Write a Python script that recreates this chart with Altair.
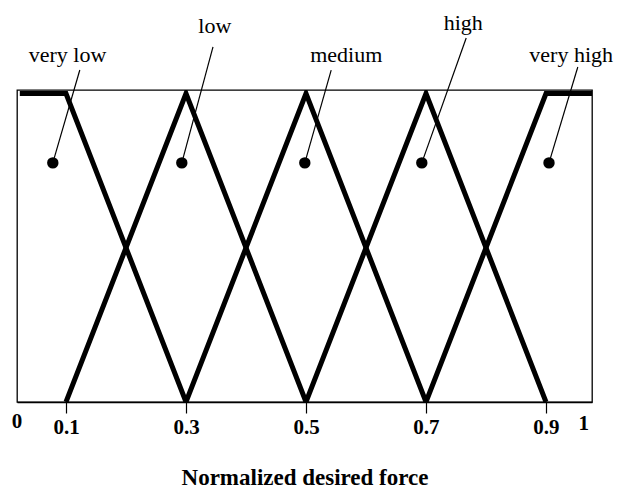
import altair as alt
import pandas as pd

# Membership functions (normalized desired force -> membership degree)
mf_names = ["very low", "low", "medium", "high", "very high"]
mf_x = [
    [0.023, 0.1, 0.3],
    [0.1, 0.3, 0.5],
    [0.3, 0.5, 0.7],
    [0.5, 0.7, 0.9],
    [0.7, 0.9, 0.977],
]
mf_y = [
    [1, 1, 0],
    [0, 1, 0],
    [0, 1, 0],
    [0, 1, 0],
    [0, 1, 1],
]

# Annotation dots, leader-line ends and label anchors (data units)
dot_x = [0.078, 0.293, 0.498, 0.693, 0.905]
dot_y = [0.775, 0.775, 0.775, 0.775, 0.775]
leader_x = [0.123, 0.345, 0.542, 0.767, 0.953]
leader_y = [1.076, 1.151, 1.076, 1.180, 1.086]
label_x = [0.1025, 0.348, 0.567, 0.762, 0.942]
label_y = [1.102, 1.196, 1.102, 1.206, 1.102]

tick_values = [0.1, 0.3, 0.5, 0.7, 0.9]
end_labels = ["0", "1"]
end_x = [0.0183, 0.963]
end_y = [-0.084, -0.091]

x_domain = [0.01833, 0.97667]
y_domain = [0, 1.0113]

rows = []
for name, xs_, ys_ in zip(mf_names, mf_x, mf_y):
    for i, (xv, yv) in enumerate(zip(xs_, ys_)):
        rows.append({"name": name, "order": i, "x": xv, "y": yv})
lines_df = pd.DataFrame(rows)

ann_df = pd.DataFrame({
    "name": mf_names,
    "dx": dot_x, "dy": dot_y,
    "lx": leader_x, "ly": leader_y,
    "tx": label_x, "ty": label_y,
})
end_df = pd.DataFrame({"t": end_labels, "x": end_x, "y": end_y})

xs = alt.Scale(domain=x_domain, nice=False, zero=False)
ys = alt.Scale(domain=y_domain, nice=False, zero=False)

serif = "Liberation Serif"

x_axis = alt.Axis(
    values=tick_values, format=".1f", title="Normalized desired force",
    grid=False, domainColor="black", domainWidth=1.3,
    tickColor="black", tickSize=11, tickWidth=1.2,
    labelFont=serif, labelFontWeight="bold", labelFontSize=21,
    labelColor="black", labelBaseline="alphabetic", labelPadding=20,
    labelFlush=False, labelOverlap=False,
    titleFont=serif, titleFontWeight="bold", titleFontSize=23,
    titleColor="black", titleBaseline="alphabetic", titleY=82,
)
TITLE = "Normalized desired force"

lines = alt.Chart(lines_df).mark_line(
    color="black", strokeWidth=5, clip=True, strokeJoin="miter"
).encode(
    x=alt.X("x:Q", scale=xs, axis=x_axis, title=TITLE),
    y=alt.Y("y:Q", scale=ys, axis=None),
    detail="name:N",
    order="order:Q",
)

leaders = alt.Chart(ann_df).mark_rule(color="black", strokeWidth=1.2).encode(
    x=alt.X("dx:Q", scale=xs, axis=x_axis, title=TITLE),
    y=alt.Y("dy:Q", scale=ys, axis=None),
    x2="lx:Q",
    y2="ly:Q",
)

dots = alt.Chart(ann_df).mark_circle(color="black", size=130, opacity=1).encode(
    x=alt.X("dx:Q", scale=xs, axis=x_axis, title=TITLE),
    y=alt.Y("dy:Q", scale=ys, axis=None),
)

labels = alt.Chart(ann_df).mark_text(
    font=serif, fontSize=22, color="black", align="center", baseline="alphabetic"
).encode(
    x=alt.X("tx:Q", scale=xs, axis=x_axis, title=TITLE),
    y=alt.Y("ty:Q", scale=ys, axis=None),
    text="name:N",
)

ends = alt.Chart(end_df).mark_text(
    font=serif, fontSize=21, fontWeight="bold", color="black",
    align="center", baseline="alphabetic"
).encode(
    x=alt.X("x:Q", scale=xs, axis=x_axis, title=TITLE),
    y=alt.Y("y:Q", scale=ys, axis=None),
    text="t:N",
)

chart = alt.layer(lines, leaders, dots, labels, ends).properties(
    width=575,
    height=312,
    autosize=alt.AutoSizeParams(type="none"),
    padding={"left": 9, "top": 82, "right": 22, "bottom": 88},
    background="white",
).configure_view(
    stroke="black", strokeWidth=1.3
)

chart.save("out.html", embed_options={"renderer": "svg", "actions": False})
